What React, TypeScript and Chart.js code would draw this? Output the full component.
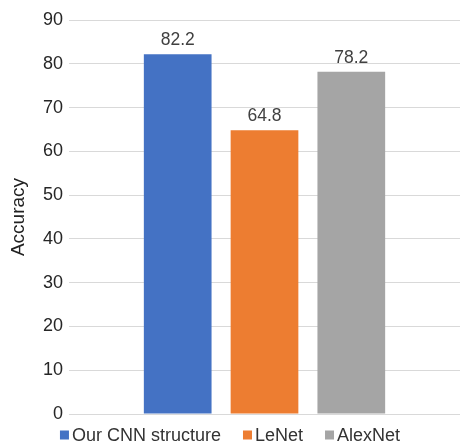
import React, { useEffect, useRef } from "react";
import { Chart, registerables } from "chart.js";

Chart.register(...registerables);

const categories = [""];
const seriesNames = ["Our CNN structure", "LeNet", "AlexNet"];
const seriesValues = [82.2, 64.8, 78.2];
const seriesColors = ["#4472C4", "#ED7D31", "#A5A5A5"];
const yTicks = [0, 10, 20, 30, 40, 50, 60, 70, 80, 90];

const FONT = "'Liberation Sans', Arial, sans-serif";

const valueLabels = {
  id: "valueLabels",
  afterDatasetsDraw(chart: any) {
    const ctx = chart.ctx;
    ctx.save();
    ctx.font = `17.5px ${FONT}`;
    ctx.fillStyle = "#404040";
    ctx.textAlign = "center";
    ctx.textBaseline = "bottom";
    chart.data.datasets.forEach((ds: any, i: number) => {
      const meta = chart.getDatasetMeta(i);
      meta.data.forEach((bar: any, j: number) => {
        ctx.fillText(String(ds.data[j]), bar.x, bar.y - 5);
      });
    });
    ctx.restore();
  },
};

const customLegend = {
  id: "customLegend",
  afterDraw(chart: any) {
    const ctx = chart.ctx;
    ctx.save();
    ctx.font = `18px ${FONT}`;
    ctx.textBaseline = "middle";
    ctx.textAlign = "left";
    const box = 9;
    const gap = 3;
    const spacing = 22;
    const items = chart.data.datasets.map((ds: any) => ({
      label: ds.label,
      color: ds.backgroundColor,
      w: box + gap + ctx.measureText(ds.label).width,
    }));
    const total =
      items.reduce((s: number, it: any) => s + it.w, 0) +
      spacing * (items.length - 1);
    let x = (chart.width - total) / 2;
    const y = 435;
    items.forEach((it: any) => {
      ctx.fillStyle = it.color;
      ctx.fillRect(x, y - box / 2, box, box);
      ctx.fillStyle = "#333333";
      ctx.fillText(it.label, x + box + gap, y + 1);
      x += it.w + spacing;
    });
    ctx.restore();
  },
};

export default function App() {
  const ref = useRef<HTMLCanvasElement | null>(null);
  useEffect(() => {
    document.body.style.margin = "0";
    if (!ref.current) return;
    const chart = new Chart(ref.current, {
      type: "bar",
      data: {
        labels: categories,
        datasets: seriesNames.map((name, i) => ({
          label: name,
          data: [seriesValues[i]],
          backgroundColor: seriesColors[i],
          borderWidth: 0,
          categoryPercentage: 0.666,
          barPercentage: 0.78,
        })),
      },
      options: {
        animation: false,
        responsive: false,
        maintainAspectRatio: false,
        layout: { padding: { left: 3, right: 0, top: 20, bottom: 32 } },
        plugins: {
          legend: { display: false },
          tooltip: { enabled: false },
        },
        scales: {
          x: { display: false },
          y: {
            min: 0,
            max: 90,
            afterFit: (scale: any) => {
              scale.width = 66;
            },
            afterBuildTicks: (scale: any) => {
              scale.ticks = yTicks.map((v) => ({ value: v }));
            },
            border: { display: false },
            grid: { color: "#d9d9d9", drawTicks: false, lineWidth: 1 },
            ticks: {
              padding: 6,
              color: "#262626",
              font: { family: FONT, size: 18 },
            },
            title: {
              display: true,
              text: "Accuracy",
              color: "#222222",
              font: { family: FONT, size: 19 },
              padding: { top: 4, bottom: 4 },
            },
          },
        },
      },
      plugins: [valueLabels, customLegend],
    });
    return () => chart.destroy();
  }, []);
  return (
    <div style={{ width: 460, height: 446 }}>
      <canvas ref={ref} width={460} height={446} style={{ display: "block" }} />
    </div>
  );
}
